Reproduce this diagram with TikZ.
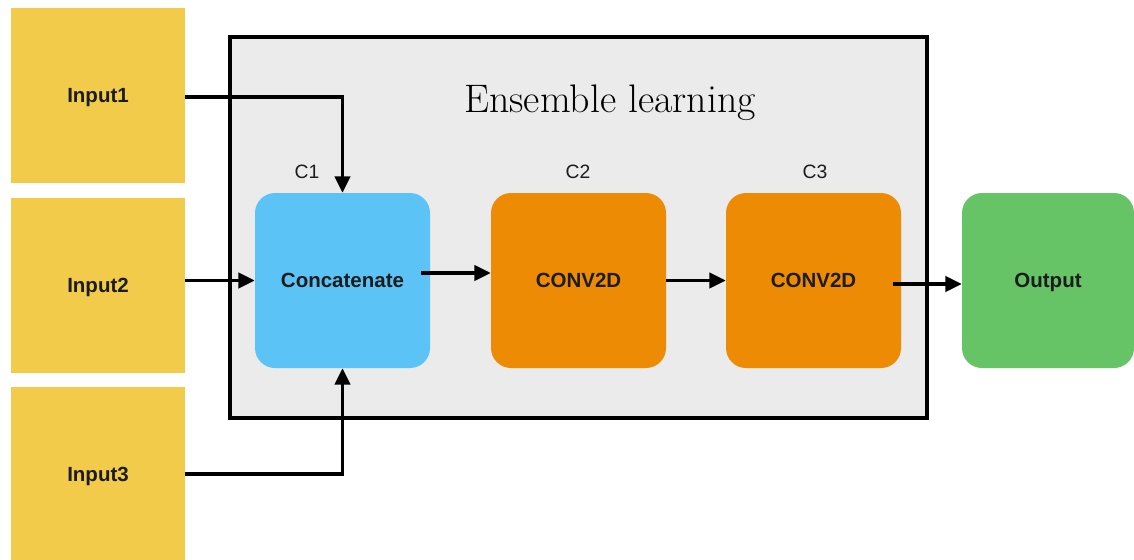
\documentclass[tikz,border=0pt]{standalone}
\usepackage{fontspec}
\setsansfont{Liberation Sans}
\usetikzlibrary{arrows.meta}

\definecolor{inyellow}{HTML}{F2CB4B}
\definecolor{ccblue}{HTML}{5BC3F6}
\definecolor{convorange}{HTML}{EE8B05}
\definecolor{outgreen}{HTML}{66C467}
\definecolor{ensgray}{HTML}{EBEBEB}
\definecolor{txtdark}{HTML}{1C1C1C}

\tikzset{
  inbox/.style={fill=inyellow, minimum width=174*0.03cm, minimum height=175*0.03cm,
    font=\sffamily\bfseries\fontsize{17.5}{20}\selectfont, text=txtdark,
    text height=12.5pt, text depth=0pt},
  layerbox/.style={rounded corners=0.6cm, minimum width=175*0.03cm, minimum height=175*0.03cm,
    font=\sffamily\bfseries\fontsize{17.5}{20}\selectfont, text=txtdark,
    text height=12.5pt, text depth=0pt},
  layerlabel/.style={font=\sffamily\fontsize{16.5}{19}\selectfont, text=txtdark},
  arr/.style={line width=3pt, -{Triangle[length=14pt,width=13pt]}}
}

\begin{document}
\begin{tikzpicture}[x=0.03cm, y=-0.03cm]
	\useasboundingbox (0,0) rectangle (1134,560);
	% ensemble frame
	\draw[line width=2.8pt, fill=ensgray] (230,37) rectangle (927,418);
	\node[anchor=base, font=\fontsize{34}{40}\selectfont] (title) at (610,112) {Ensemble learning};

	% inputs
	\node[inbox] (in1) at (98,95.5) {Input1};
	\node[inbox] (in2) at (98,285) {Input2};
	\node[inbox] (in3) at (98,474) {Input3};

	% layers
	\node[layerbox, fill=ccblue] (cc) at (342.5,280.5) {Concatenate};
	\node[layerbox, fill=convorange] (c2) at (578.5,280.5) {CONV2D};
	\node[layerbox, fill=convorange] (c3) at (813.5,280.5) {CONV2D};
	\node[layerbox, fill=outgreen, minimum width=172*0.03cm] (out) at (1048,280.5) {Output};

	\node[layerlabel] (lc1) at (307,172) {C1};
	\node[layerlabel] (lc2) at (578,172) {C2};
	\node[layerlabel] (lc3) at (815,172) {C3};

	% connections
	\draw[arr] ([yshift=-1.5*0.03cm]in1.east) -| (cc.north);
	\draw[arr] (cc.west -| in2.east) -- (cc.west);
	\draw[arr] (in3.east) -| (cc.south);
	\draw[arr] ([shift={(-9,-7.5)}]cc.east) -- ([shift={(0,-7.5)}]c2.west);
	\draw[arr] (c2.east) -- (c3.west);
	\draw[arr] ([shift={(-8,3.5)}]c3.east) -- ([shift={(0,3.5)}]out.west);
\end{tikzpicture}
\end{document}
